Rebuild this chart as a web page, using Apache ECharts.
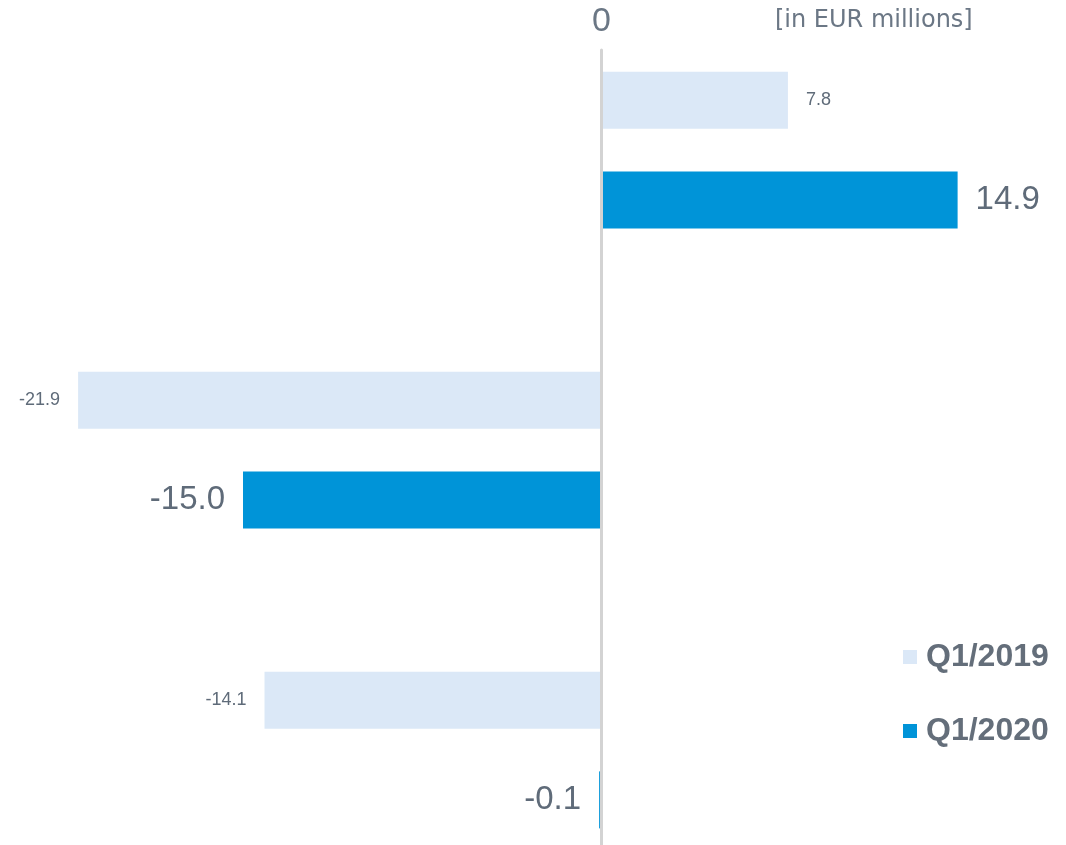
<!DOCTYPE html>
<html>
<head>
<meta charset="utf-8">
<script src="https://cdn.jsdelivr.net/npm/echarts@6/dist/echarts.min.js"></script>
<style>
html,body{margin:0;padding:0;background:#fff;}
#chart{width:1066px;height:845px;}
</style>
</head>
<body>
<div id="chart"></div>
<script>
const categories = ['Item 1', 'Item 2', 'Item 3'];
const seriesNames = ['Q1/2019', 'Q1/2020'];
const q12019 = [7.8, -21.9, -14.1];
const q12020 = [14.9, -15.0, -0.1];
const unitText = '[in EUR millions]';

const textColor = '#5f6b79';
const colors = ['#dbe8f7', '#0094d8'];

function mkData(arr) {
  return arr.map(v => ({ value: v, label: { position: v < 0 ? 'left' : 'right' } }));
}

const chart = echarts.init(document.getElementById('chart'));
chart.setOption({
  animation: false,
  backgroundColor: '#ffffff',
  title: {
    text: unitText,
    left: 770, top: 4,
    textStyle: { fontFamily: 'DejaVu Sans', fontSize: 24, fontWeight: 'normal', color: '#6b7785' }
  },
  legend: {
    orient: 'vertical',
    left: 898, top: 636,
    itemWidth: 14, itemHeight: 14,
    itemGap: 42,
    icon: 'rect',
    textStyle: { fontFamily: 'Liberation Sans', fontSize: 32, fontWeight: 'bold', color: '#646e7a', padding: [0, 0, 0, 4] },
    data: seriesNames
  },
  grid: [
    { left: 75.7, right: 10.4, top: 0, bottom: -55, outerBoundsMode: 'none' },
    { left: 75.7, right: 10.4, top: 50, bottom: 0, outerBoundsMode: 'none' }
  ],
  xAxis: [
    { gridIndex: 0, type: 'value', min: -22, max: 19, show: false, splitLine: { show: false } },
    { gridIndex: 1, type: 'value', min: -22, max: 19, interval: 1, position: 'top',
      axisLine: { show: false }, axisTick: { show: false }, splitLine: { show: false },
      axisLabel: { margin: 11, fontFamily: 'Liberation Sans', fontSize: 34, color: '#6b7785',
        formatter: v => (v === 0 ? '0' : '') } }
  ],
  yAxis: [
    { gridIndex: 0, type: 'category', data: categories, inverse: true, show: false },
    { gridIndex: 1, type: 'value', min: 0, max: 1, z: 10,
      axisLine: { show: true, onZero: true, lineStyle: { color: '#d3d3d3', width: 3 } },
      axisTick: { show: false }, axisLabel: { show: false }, splitLine: { show: false } }
  ],
  series: [
    {
      name: seriesNames[0], type: 'bar', xAxisIndex: 0, yAxisIndex: 0,
      data: mkData(q12019),
      barWidth: 57, barGap: '75%',
      itemStyle: { color: colors[0] },
      label: { show: true, distance: 18, fontFamily: 'Liberation Sans', fontSize: 18, color: textColor,
        formatter: p => p.value.toFixed(1) }
    },
    {
      name: seriesNames[1], type: 'bar', xAxisIndex: 0, yAxisIndex: 0,
      data: mkData(q12020),
      barWidth: 57, barGap: '75%',
      itemStyle: { color: colors[1] },
      label: { show: true, distance: 18, fontFamily: 'Liberation Sans', fontSize: 33, color: textColor,
        formatter: p => p.value.toFixed(1) }
    }
  ]
});
</script>
</body>
</html>
